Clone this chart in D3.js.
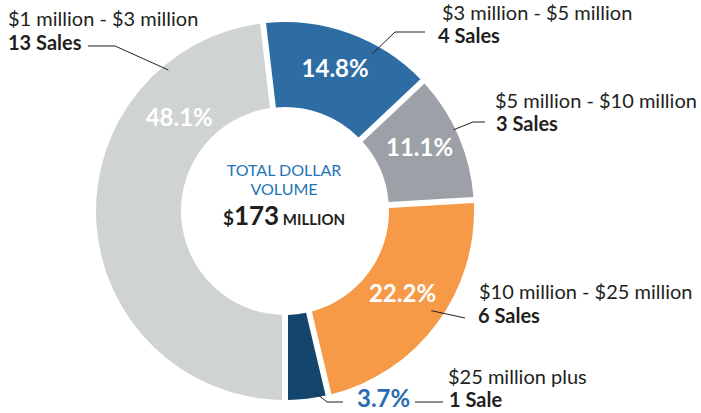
<!DOCTYPE html>
<html lang="en">
<head>
    <meta charset="UTF-8">
    <title>Total Dollar Volume</title>
    <script type="text/javascript" src="https://cdn.jsdelivr.net/npm/d3@7/dist/d3.min.js"></script>
    <style>
        body { margin: 0; background: #fff; }
        svg { display: block; font-family: Lato, "Open Sans", sans-serif; }
        .range { font-size: 20px; fill: #231f20; }
        .count { font-size: 20px; font-weight: bold; fill: #231f20; }
        .share { font-size: 24px; font-weight: bold; fill: #fff; }
        .leader { fill: none; stroke: #231f20; stroke-width: 1; }
    </style>
</head>
<body>
<script type="text/javascript">
    // data
    let categories = ['$1 million - $3 million', '$3 million - $5 million', '$5 million - $10 million',
        '$10 million - $25 million', '$25 million plus'];
    let sales = [13, 4, 3, 6, 1];
    let salesLabels = ['13 Sales', '4 Sales', '3 Sales', '6 Sales', '1 Sale'];
    let shares = [48.1, 14.8, 11.1, 22.2, 3.7];
    let colors = ['#d0d3d4', '#2e6da4', '#9da1a7', '#f79a48', '#14466d'];
    let totalVolume = 173;

    // canvas
    let width = 701;
    let height = 413;
    let cx = 285, cy = 211;
    let outerR = 189, innerR = 104;

    let svg = d3.select('body')
        .append('svg')
        .attr('width', width)
        .attr('height', height);

    let g = svg.append('g')
        .attr('transform', 'translate(' + cx + ',' + cy + ')');

    // light grey slice starts at 6 o'clock and runs clockwise
    let pie = d3.pie()
        .sort(null)
        .value(function (d) { return d; })
        .startAngle(Math.PI)
        .endAngle(3 * Math.PI);

    let arcs = pie(sales);

    let arc = d3.arc()
        .innerRadius(innerR)
        .outerRadius(outerR)
        .padAngle(6 / outerR)
        .padRadius(outerR);

    g.selectAll('.slice')
        .data(arcs)
        .enter()
        .append('path')
        .attr('class', 'slice')
        .attr('d', arc)
        .style('fill', function (d, i) { return colors[i]; });

    // point at fraction t of a slice's sweep, at radius r
    function polar(d, t, r) {
        let a = d.startAngle + t * (d.endAngle - d.startAngle);
        return [Math.sin(a) * r, -Math.cos(a) * r];
    }

    // percentage labels inside the ring (the big slice is labelled higher up)
    g.selectAll('.share')
        .data(arcs.slice(0, 4))
        .enter()
        .append('text')
        .attr('class', 'share')
        .attr('text-anchor', 'middle')
        .attr('dy', '0.35em')
        .attr('transform', function (d, i) {
            let p = i === 0 ? polar(d, 0.758, 141) : polar(d, 0.5, 146.5);
            if (i !== 0) p[1] -= 5;
            return 'translate(' + p + ')';
        })
        .text(function (d, i) { return shares[i] + '%'; });

    // callouts
    let callouts = [
        {t: 0.81, r: 183, path: [[115, 46], [88, 46]], range: [8, 26], count: [8, 50]},
        {t: 0.67, r: 180, path: [[395, 32], [425, 32]], range: [442, 20], count: [438, 43]},
        {t: 0.44, r: 187, path: [[473, 122], [485, 122]], range: [495, 108], count: [496, 131]},
        {t: 0.47, r: 177, path: [[465, 318]], range: [479, 299], count: [478, 323]},
        {t: 0.27, r: 185, path: [[327, 402], [343, 402]], range: [448, 384], count: [449, 407]}
    ];

    let line = d3.line();

    callouts.forEach(function (c, i) {
        let s = polar(arcs[i], c.t, c.r);
        let pts = [[s[0] + cx, s[1] + cy]].concat(c.path);
        svg.append('path')
            .attr('class', 'leader')
            .attr('d', line(pts));
        svg.append('text')
            .attr('class', 'range')
            .attr('x', c.range[0])
            .attr('y', c.range[1])
            .text(categories[i]);
        svg.append('text')
            .attr('class', 'count')
            .attr('x', c.count[0])
            .attr('y', c.count[1])
            .text(salesLabels[i]);
    });

    // the thin slice gets its percentage outside
    svg.append('text')
        .attr('class', 'share')
        .attr('x', 357)
        .attr('y', 407)
        .style('fill', '#2a6cb0')
        .text(shares[4] + '%');
    svg.append('path')
        .attr('class', 'leader')
        .attr('d', line([[415, 402], [443, 402]]));

    // centre
    let centre = svg.append('g')
        .attr('transform', 'translate(' + (cx - 1) + ',' + cy + ')')
        .attr('text-anchor', 'middle');
    centre.append('text')
        .attr('y', -35)
        .style('font-size', '16px')
        .style('fill', '#1f74b8')
        .text('TOTAL DOLLAR');
    centre.append('text')
        .attr('y', -16)
        .style('font-size', '16px')
        .style('fill', '#1f74b8')
        .text('VOLUME');
    let total = centre.append('text')
        .attr('y', 14)
        .style('font-weight', 'bold')
        .style('fill', '#231f20');
    total.append('tspan').style('font-size', '19px').text('$');
    total.append('tspan').style('font-size', '26px').text(totalVolume);
    total.append('tspan').style('font-size', '15px').text(' MILLION');
</script>
</body>
</html>
